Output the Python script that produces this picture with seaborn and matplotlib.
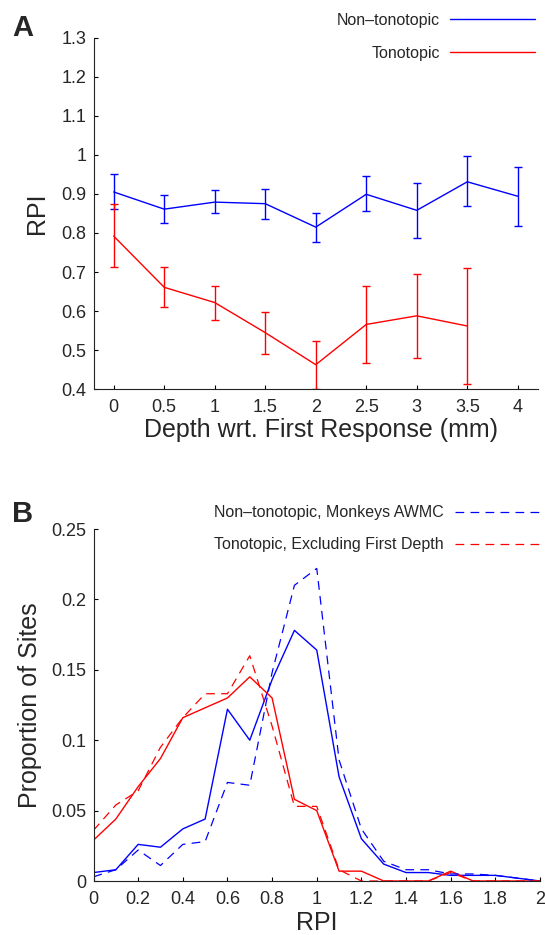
import numpy as np
import pandas as pd
import matplotlib
matplotlib.use("Agg")
import matplotlib.pyplot as plt
from matplotlib.ticker import FormatStrFormatter
import seaborn as sns

# ---- data ----
# panel A: RPI vs depth
depth = [0, 0.5, 1, 1.5, 2, 2.5, 3, 3.5, 4]
nontono_rpi = [0.905, 0.861, 0.879, 0.875, 0.815, 0.899, 0.858, 0.931, 0.894]
nontono_lo = [0.861, 0.826, 0.850, 0.836, 0.778, 0.855, 0.786, 0.868, 0.819]
nontono_hi = [0.952, 0.896, 0.910, 0.913, 0.850, 0.945, 0.929, 0.997, 0.969]

depth_tono = [0, 0.5, 1, 1.5, 2, 2.5, 3, 3.5]
tono_rpi = [0.792, 0.661, 0.622, 0.545, 0.463, 0.566, 0.588, 0.562]
tono_lo = [0.712, 0.610, 0.577, 0.490, 0.400, 0.468, 0.479, 0.414]
tono_hi = [0.873, 0.713, 0.664, 0.599, 0.524, 0.665, 0.696, 0.710]

# panel B: distribution of RPI
rpi_bins = [0, 0.1, 0.2, 0.3, 0.4, 0.5, 0.6, 0.7, 0.8, 0.9, 1.0,
            1.1, 1.2, 1.3, 1.4, 1.5, 1.6, 1.7, 1.8, 1.9, 2.0]
nontono_all = [0.006, 0.008, 0.026, 0.024, 0.037, 0.044, 0.122, 0.100, 0.143, 0.178, 0.164,
               0.074, 0.030, 0.012, 0.006, 0.006, 0.004, 0.004, 0.004, 0.002, 0.0]
nontono_awmc = [0.003, 0.008, 0.022, 0.011, 0.026, 0.028, 0.070, 0.068, 0.148, 0.210, 0.222,
                0.086, 0.037, 0.014, 0.008, 0.008, 0.005, 0.005, 0.004, 0.002, 0.0]
tono_all = [0.029, 0.044, 0.067, 0.087, 0.116, 0.123, 0.130, 0.145, 0.130, 0.058, 0.050,
            0.007, 0.007, 0.0, 0.0, 0.0, 0.007, 0.0, 0.0, 0.0, 0.0]
tono_excl = [0.036, 0.054, 0.064, 0.095, 0.116, 0.133, 0.133, 0.160, 0.110, 0.053, 0.053,
             0.008, 0.0, 0.0, 0.0, 0.0, 0.006, 0.0, 0.0, 0.0, 0.0]

sns.set_style("ticks")
plt.rcParams['font.family'] = ['Liberation Sans', 'DejaVu Sans']
plt.rcParams['axes.linewidth'] = 0.8

BLUE = (0, 0, 1)
RED = (1, 0, 0)
DASH = (0, (7, 5))

fig = plt.figure(figsize=(5.45, 9.35), dpi=100)
axA = fig.add_axes([93.5 / 545, 1 - 389.3 / 935, 444.5 / 545, 351.7 / 935])
axB = fig.add_axes([93.5 / 545, 1 - 881 / 935, 446.5 / 545, 352 / 935])

# ---- panel A ----
sns.lineplot(x=depth, y=nontono_rpi, color=BLUE, lw=1, label="Non\u2013tonotopic", ax=axA)
sns.lineplot(x=depth_tono, y=tono_rpi, color=RED, lw=1, label="Tonotopic", ax=axA)
axA.errorbar(depth, nontono_rpi,
             yerr=[np.subtract(nontono_rpi, nontono_lo), np.subtract(nontono_hi, nontono_rpi)],
             fmt="none", ecolor=BLUE, elinewidth=1, capsize=2.6, capthick=1)
axA.errorbar(depth_tono, tono_rpi,
             yerr=[np.subtract(tono_rpi, tono_lo), np.subtract(tono_hi, tono_rpi)],
             fmt="none", ecolor=RED, elinewidth=1, capsize=2.6, capthick=1)

axA.set_xlim(-0.2, 4.2)
axA.set_ylim(0.4, 1.3)
axA.set_xticks(np.arange(0, 4.01, 0.5))
axA.set_yticks(np.arange(0.4, 1.301, 0.1))
axA.xaxis.set_major_formatter(FormatStrFormatter('%g'))
axA.yaxis.set_major_formatter(FormatStrFormatter('%g'))
axA.set_xlabel("Depth wrt. First Response (mm)", fontsize=18)
axA.set_ylabel("RPI", fontsize=18)
axA.xaxis.set_label_coords(0.512, -0.082)
axA.yaxis.set_label_coords(-0.10, 0.5)
axA.legend(loc="upper right", bbox_to_anchor=(535 / 545, 1 - 13 / 935),
           bbox_transform=fig.transFigure, frameon=False, markerfirst=False,
           fontsize=11.5, handlelength=5.3, handletextpad=0.65, labelspacing=1.12,
           borderpad=0, borderaxespad=0)

# ---- panel B ----
sns.lineplot(x=rpi_bins, y=nontono_all, color=BLUE, lw=1, legend=False, ax=axB)
sns.lineplot(x=rpi_bins, y=tono_all, color=RED, lw=1, legend=False, ax=axB)
sns.lineplot(x=rpi_bins, y=nontono_awmc, color=BLUE, lw=0.9, linestyle=DASH,
             label="Non\u2013tonotopic, Monkeys AWMC", ax=axB)
sns.lineplot(x=rpi_bins, y=tono_excl, color=RED, lw=0.9, linestyle=DASH,
             label="Tonotopic, Excluding First Depth", ax=axB)

axB.set_xlim(0, 2)
axB.set_ylim(0, 0.25)
axB.set_xticks(np.arange(0, 2.01, 0.2))
axB.set_yticks(np.arange(0, 0.251, 0.05))
axB.xaxis.set_major_formatter(FormatStrFormatter('%g'))
axB.yaxis.set_major_formatter(FormatStrFormatter('%g'))
axB.set_xlabel("RPI", fontsize=18)
axB.set_ylabel("Proportion of Sites", fontsize=18)
axB.xaxis.set_label_coords(0.5, -0.085)
axB.yaxis.set_label_coords(-0.115, 0.5)
axB.legend(loc="upper right", bbox_to_anchor=(548 / 545, 1 - 505.5 / 935),
           bbox_transform=fig.transFigure, frameon=False, markerfirst=False,
           fontsize=11.5, handlelength=5.8, handletextpad=0.75, labelspacing=1.05,
           borderpad=0, borderaxespad=0)

for ax in (axA, axB):
    sns.despine(ax=ax)
    ax.tick_params(direction="in", length=3, width=0.8, labelsize=13, color="black")
    ax.tick_params(axis="x", pad=7)
    ax.tick_params(axis="y", pad=5)
    for s in ("left", "bottom"):
        ax.spines[s].set_color("#222222")

fig.text(12 / 545, 1 - 14 / 935, "A", fontsize=21, fontweight="bold", va="top", ha="left")
fig.text(12 / 545, 1 - 500 / 935, "B", fontsize=21, fontweight="bold", va="top", ha="left")

fig.savefig("out.png", dpi=100)
